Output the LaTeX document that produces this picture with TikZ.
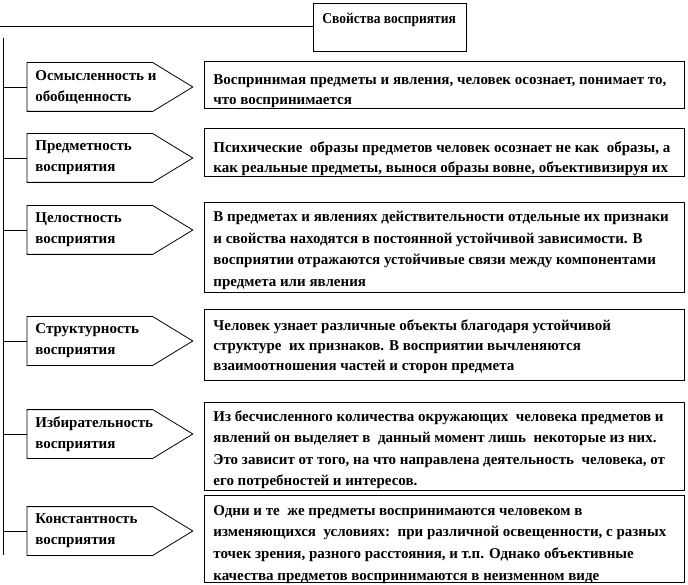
\documentclass[tikz,border=0pt]{standalone}
\usepackage{fontspec}
\setmainfont{Liberation Serif}
\newfontfamily\titlefont[FakeStretch=0.9]{Liberation Serif}
\usetikzlibrary{calc}
\begin{document}
\begin{tikzpicture}[x=1pt,y=-1pt,line width=0.8pt,
  pentbase/.style={rectangle,minimum width=125pt,minimum height=48pt,anchor=west,inner sep=0pt},
  labtext/.style={anchor=west,inner sep=0pt,align=left,font=\bfseries\fontsize{15}{21}\selectfont},
  boxn/.style={draw,rectangle,minimum width=480pt,anchor=north west,inner sep=0pt},
  txt/.style={anchor=north west,inner sep=0pt,align=left,font=\bfseries\fontsize{15}{21.6}\selectfont},
  txtb/.style={txt,font=\bfseries\fontsize{15}{20}\selectfont}
]
\useasboundingbox (0,0) rectangle (688,585);

% title
\node[draw,rectangle,minimum width=153pt,minimum height=48pt,anchor=north west,inner sep=0pt] (title) at (313,3) {};
\node[anchor=north west,inner sep=0pt,font=\titlefont\bfseries\fontsize{15}{18}\selectfont] (ttext) at ([xshift=9pt,yshift=-10pt]title.north west) {Свойства восприятия};
\coordinate (hl) at (0,26);
\draw (hl) -- (hl -| title.west);

% spine
\coordinate (spinetop) at (3,38);
\coordinate (spinebot) at (3,555);
\draw (spinetop) -- (spinebot);

% row 1
\node[pentbase] (p1) at (27,87) {};
\draw (p1.north west) -- (p1.north east) -- ([xshift=40pt]p1.east) -- (p1.south east) -- (p1.south west) -- cycle;
\node[labtext] (l1) at ([xshift=8pt]p1.west) {Осмысленность и\\обобщенность};
\draw (p1.west -| spinetop) -- (p1.west);
\node[boxn,minimum height=47pt] (b1) at (204,61) {};
\node[txtb] (t1) at ([xshift=9pt,yshift=-13pt]b1.north west) {Воспринимая предметы и явления, человек осознает, понимает то,\\что воспринимается};

% row 2
\node[pentbase] (p2) at (27,158) {};
\draw (p2.north west) -- (p2.north east) -- ([xshift=40pt]p2.east) -- (p2.south east) -- (p2.south west) -- cycle;
\node[labtext] (l2) at ([xshift=8pt]p2.west) {Предметность\\восприятия};
\draw (p2.west -| spinetop) -- (p2.west);
\node[boxn,minimum height=48pt] (b2) at (204,128) {};
\node[txtb] (t2) at ([xshift=9pt,yshift=-13pt]b2.north west) {Психические\ \ образы предметов человек осознает не как\ \ образы, а\\как реальные предметы, вынося образы вовне, объективизируя их};

% row 3
\node[pentbase] (p3) at (27,230) {};
\draw (p3.north west) -- (p3.north east) -- ([xshift=40pt]p3.east) -- (p3.south east) -- (p3.south west) -- cycle;
\node[labtext] (l3) at ([xshift=8pt]p3.west) {Целостность\\восприятия};
\draw (p3.west -| spinetop) -- (p3.west);
\node[boxn,minimum height=90pt] (b3) at (204,202) {};
\node[txt] (t3) at ([xshift=9pt,yshift=-9pt]b3.north west) {В предметах и явлениях действительности отдельные их признаки\\и свойства находятся в постоянной устойчивой зависимости. В\\восприятии отражаются устойчивые связи между компонентами\\предмета или явления};

% row 4
\node[pentbase] (p4) at (27,341) {};
\draw (p4.north west) -- (p4.north east) -- ([xshift=40pt]p4.east) -- (p4.south east) -- (p4.south west) -- cycle;
\node[labtext] (l4) at ([xshift=8pt]p4.west) {Структурность\\восприятия};
\draw (p4.west -| spinetop) -- (p4.west);
\node[boxn,minimum height=71pt] (b4) at (204,309) {};
\node[txtb] (t4) at ([xshift=9pt,yshift=-10pt]b4.north west) {Человек узнает различные объекты благодаря устойчивой\\структуре\ \ их признаков. В восприятии вычленяются\\взаимоотношения частей и сторон предмета};

% row 5
\node[pentbase] (p5) at (27,434) {};
\draw (p5.north west) -- (p5.north east) -- ([xshift=40pt]p5.east) -- (p5.south east) -- (p5.south west) -- cycle;
\node[labtext] (l5) at ([xshift=8pt]p5.west) {Избирательность\\восприятия};
\draw (p5.west -| spinetop) -- (p5.west);
\node[boxn,minimum height=88pt] (b5) at (204,402) {};
\node[txt] (t5) at ([xshift=9pt,yshift=-8pt]b5.north west) {Из бесчисленного количества окружающих\ \ человека предметов и\\явлений он выделяет в\ \ данный момент лишь\ \ некоторые из них.\\Это зависит от того, на что направлена деятельность\ \ человека, от\\его потребностей и интересов.};

% row 6
\node[pentbase] (p6) at (27,531) {};
\draw (p6.north west) -- (p6.north east) -- ([xshift=40pt]p6.east) -- (p6.south east) -- (p6.south west) -- cycle;
\node[labtext] (l6) at ([xshift=8pt]p6.west) {Константность\\восприятия};
\draw (p6.west -| spinetop) -- (p6.west);
\node[boxn,minimum height=87pt] (b6) at (204,495) {};
\node[txt] (t6) at ([xshift=9pt,yshift=-10pt]b6.north west) {Одни и те\ \ же предметы воспринимаются человеком в\\изменяющихся\ \ условиях:\ \ при различной освещенности, с разных\\точек зрения, разного расстояния, и т.п. Однако объективные\\качества предметов воспринимаются в неизменном виде};
\end{tikzpicture}
\end{document}
